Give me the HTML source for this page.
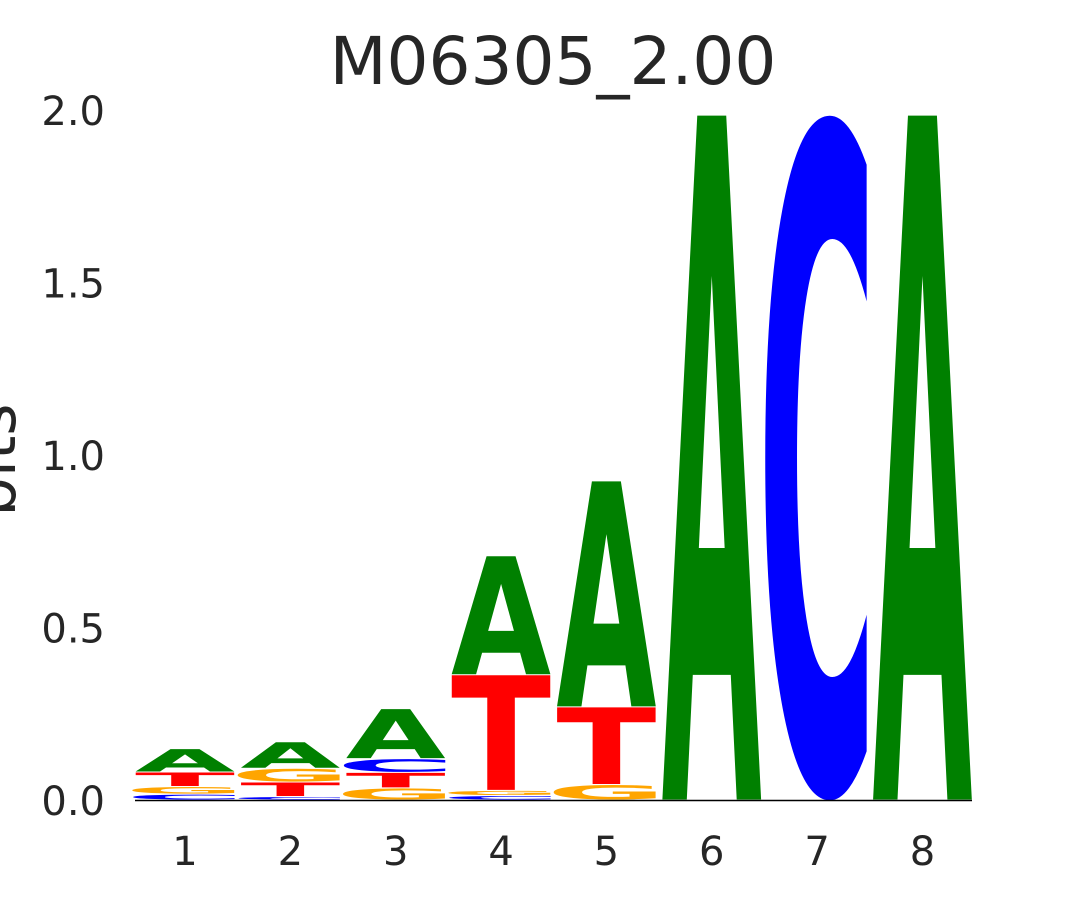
<!DOCTYPE html>
<html><head><meta charset="utf-8"><style>
html,body{margin:0;padding:0;background:#fff;overflow:hidden;width:1080px;height:900px;}
svg{display:block;font-family:"DejaVu Sans","Liberation Sans",sans-serif;}
</style></head><body>
<svg id="chart" width="1080" height="900" viewBox="0 0 1080 900" overflow="hidden">
<text x="553" y="84" font-size="66" fill="#262626" text-anchor="middle">M06305_2.00</text>
<text transform="translate(15,460) rotate(-90)" font-size="62" fill="#262626" text-anchor="middle">bits</text>
<g id="yticks"></g><g id="xticks"></g><g id="letters"></g>
<line x1="135" x2="972" y1="800.5" y2="800.5" stroke="#000" stroke-width="1.5"/>
</svg>
<script>
// data: per position, letters stacked bottom-to-top with heights in bits
const positions = [1,2,3,4,5,6,7,8];
const stackLetters = [
  ["C","G","T","A"],
  ["C","T","G","A"],
  ["G","T","C","A"],
  ["C","G","T","A"],
  ["G","T","A"],
  ["A"],
  ["C"],
  ["A"]
];
const stackHeights = [
  [0.017,0.022,0.042,0.068],
  [0.010,0.042,0.040,0.077],
  [0.035,0.045,0.040,0.145],
  [0.013,0.015,0.335,0.345],
  [0.045,0.225,0.655],
  [1.985],
  [1.985],
  [1.985]
];
const yTicks = [0,0.5,1.0,1.5,2.0];
const yTickLabels = ["0.0","0.5","1.0","1.5","2.0"];

const NS="http://www.w3.org/2000/svg";
const yBase=800, pxPerBit=345;
const y = v => yBase - v*pxPerBit;
const xc = p => 185 + (p-1)*105.35;
const colors={A:"#008000",C:"#0000ff",G:"#ffa500",T:"#ff0000"};

const yt=document.getElementById('yticks');
yTicks.forEach((t,i)=>{
  const el=document.createElementNS(NS,'text');
  
  
  el.setAttribute('x',105);el.setAttribute('y',y(t)+15);
  el.setAttribute('font-size',40);el.setAttribute('fill','#262626');
  el.setAttribute('text-anchor','end');el.textContent=yTickLabels[i];
  yt.appendChild(el);
});
const xt=document.getElementById('xticks');
positions.forEach(p=>{
  const el=document.createElementNS(NS,'text');
  
  
  el.setAttribute('x',xc(p));el.setAttribute('y',865);
  el.setAttribute('font-size',40);el.setAttribute('fill','#262626');
  el.setAttribute('text-anchor','middle');el.textContent=String(p);
  xt.appendChild(el);
});
const lg=document.getElementById('letters');
const capH=72.9;
positions.forEach((p,i)=>{
  let cum=0;
  stackLetters[i].forEach((L,j)=>{
    const h=stackHeights[i][j];
    const bottom=y(cum), top=y(cum+h);
    cum+=h;
    const hp=bottom-top-1;
    if(hp<=0.3) return;
    const round=(L==="C"||L==="G");
    const W=round?120:100;
    const over=round?0.0175*hp:0;
    const sy=(hp-2*over)/capH;
    const el=document.createElementNS(NS,'text');
    
    
    el.setAttribute('x',0);el.setAttribute('y',0);
    el.setAttribute('font-size',100);el.setAttribute('font-weight','bold');
    el.setAttribute('textLength',W);el.setAttribute('lengthAdjust','spacingAndGlyphs');
    el.setAttribute('fill',colors[L]);
    el.setAttribute('transform','translate('+(xc(p)-W/2)+','+(bottom-0.5-over)+') scale(1,'+sy+')');
    el.textContent=L;
    lg.appendChild(el);
  });
});
</script>
</body></html>
